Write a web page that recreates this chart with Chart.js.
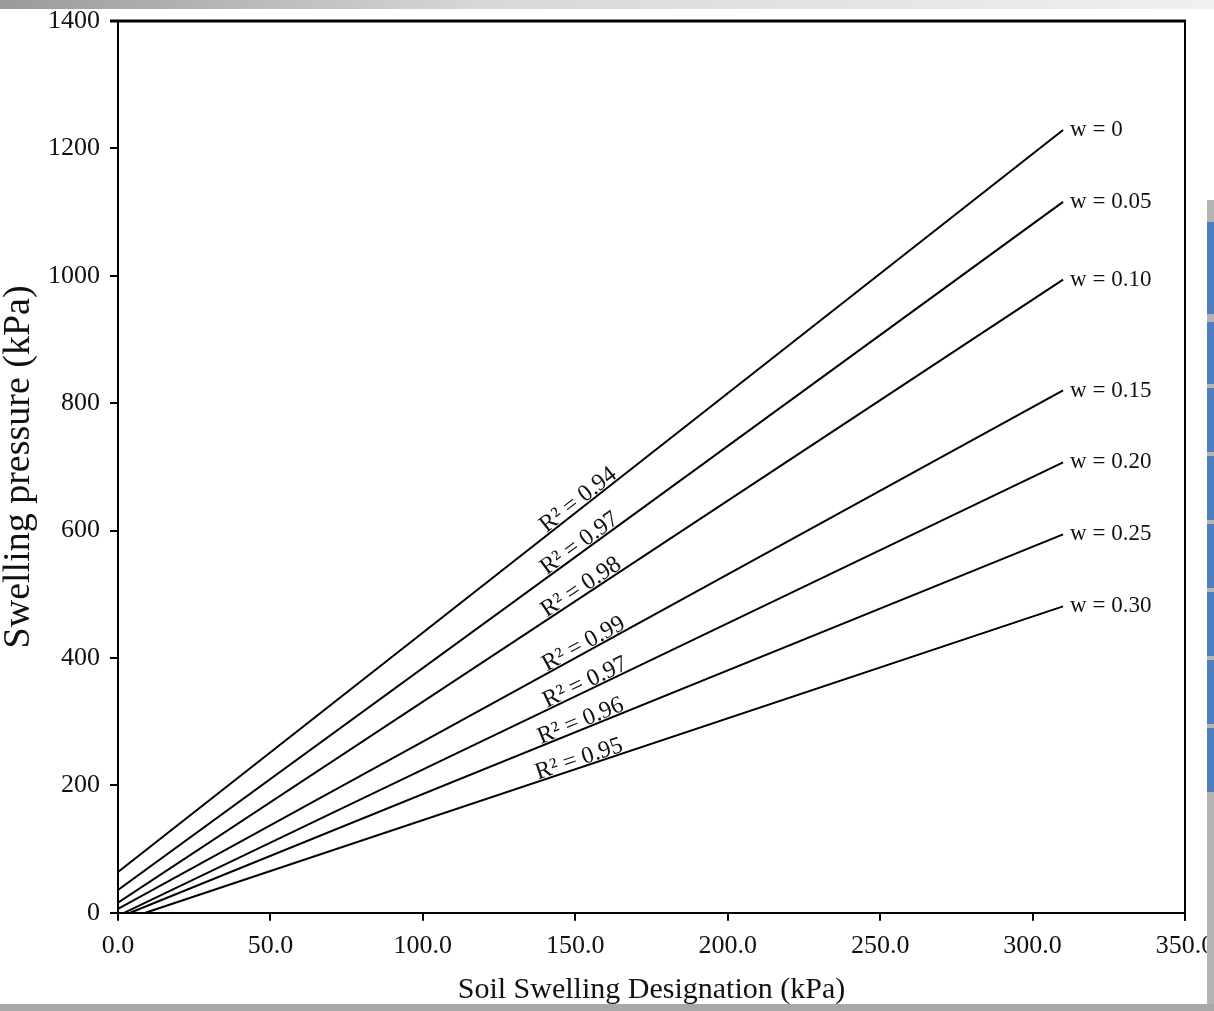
<!DOCTYPE html>
<html>
<head>
<meta charset="utf-8">
<title>Swelling pressure vs Soil Swelling Designation</title>
<script src="https://cdn.jsdelivr.net/npm/chart.js@4.4.1/dist/chart.umd.min.js"></script>
<style>
  body { margin: 0; background: #fff; }
  #wrap { position: relative; width: 1214px; height: 1011px; overflow: hidden; }
  #topBar { position: absolute; left: 0; top: 0; width: 1214px; height: 9px;
    background: linear-gradient(to right, #9a9a9a, #d8d8d8 40%, #f0f0f0); }
  #bottomBar { position: absolute; left: 0; top: 1004px; width: 1214px; height: 7px; background: #a8a8a8; }
  #rightStrip { position: absolute; left: 1207px; top: 200px; width: 7px; height: 811px; background: #b4b4b4; }
  .blueBlock { position: absolute; left: 1207px; width: 7px; background: #4f7fbd; }
  #chartBox { position: absolute; left: 0; top: 0; width: 1214px; height: 1011px; }
</style>
</head>
<body>
<div id="wrap">
  <div id="chartBox"><canvas id="myChart"></canvas></div>
  <div id="topBar"></div>
  <div id="rightStrip"></div>
  <div class="blueBlock" style="top:222px;height:92px"></div>
  <div class="blueBlock" style="top:322px;height:62px"></div>
  <div class="blueBlock" style="top:388px;height:64px"></div>
  <div class="blueBlock" style="top:456px;height:64px"></div>
  <div class="blueBlock" style="top:524px;height:64px"></div>
  <div class="blueBlock" style="top:592px;height:64px"></div>
  <div class="blueBlock" style="top:660px;height:64px"></div>
  <div class="blueBlock" style="top:728px;height:64px"></div>
  <div id="bottomBar"></div>
</div>
<script>
// moisture content curves
const moistureLabels = ['w = 0', 'w = 0.05', 'w = 0.10', 'w = 0.15', 'w = 0.20', 'w = 0.25', 'w = 0.30'];
const r2Labels = ['R\u00b2 = 0.94', 'R\u00b2 = 0.97', 'R\u00b2 = 0.98', 'R\u00b2 = 0.99', 'R\u00b2 = 0.97', 'R\u00b2 = 0.96', 'R\u00b2 = 0.95'];
const startX = [0, 0, 0, 0, 2, 4, 9];
const startY = [64, 36, 16, 6, 0, 0, 0];
const endX = [310, 310, 310, 310, 310, 310, 310];
const endY = [1229, 1116, 994, 820, 707, 594, 481];
const r2LabelX = [141, 141, 141, 141, 141, 139, 138];

const serif = '"Liberation Serif", "DejaVu Serif", serif';

const datasets = moistureLabels.map((name, i) => ({
  label: name,
  data: [{ x: startX[i], y: startY[i] }, { x: endX[i], y: endY[i] }],
  showLine: true,
  borderColor: '#000',
  borderWidth: 2,
  pointRadius: 0,
  fill: false
}));

// draws the R² notes along each line, the w labels and the plot frame
const lineLabels = {
  id: 'lineLabels',
  afterDatasetsDraw(chart) {
    const { ctx, chartArea } = chart;
    const xs = chart.scales.x;
    const ys = chart.scales.y;
    ctx.save();

    ctx.strokeStyle = '#000';
    ctx.lineWidth = 3;
    ctx.beginPath();
    ctx.moveTo(chartArea.left - 8, chartArea.top);
    ctx.lineTo(chartArea.right + 1, chartArea.top);
    ctx.stroke();
    ctx.lineWidth = 2;
    ctx.beginPath();
    ctx.moveTo(chartArea.right, chartArea.top);
    ctx.lineTo(chartArea.right, chartArea.bottom + 8);
    ctx.stroke();

    ctx.fillStyle = '#111';
    moistureLabels.forEach((name, i) => {
      const px = xs.getPixelForValue(endX[i]);
      const py = ys.getPixelForValue(endY[i]);
      ctx.font = '23px ' + serif;
      ctx.textAlign = 'left';
      ctx.textBaseline = 'middle';
      ctx.fillText(name, px + 7, py);

      const x0 = xs.getPixelForValue(startX[i]);
      const y0 = ys.getPixelForValue(startY[i]);
      const angle = Math.atan2(py - y0, px - x0);
      const t = (r2LabelX[i] - startX[i]) / (endX[i] - startX[i]);
      const lx = x0 + (px - x0) * t;
      const ly = y0 + (py - y0) * t;
      ctx.save();
      ctx.translate(lx, ly);
      ctx.rotate(angle);
      ctx.font = '24px ' + serif;
      ctx.textBaseline = 'alphabetic';
      ctx.fillText(r2Labels[i], 0, -2);
      ctx.restore();
    });
    ctx.restore();
  }
};

const ctx1 = document.getElementById('myChart').getContext('2d');
new Chart(ctx1, {
  type: 'scatter',
  data: { datasets: datasets },
  options: {
    responsive: true,
    maintainAspectRatio: false,
    animation: false,
    layout: { padding: { top: 0, right: 0, bottom: 3, left: 0 } },
    plugins: {
      legend: { display: false },
      tooltip: { enabled: false }
    },
    scales: {
      x: {
        type: 'linear',
        min: 0,
        max: 350,
        afterFit: scale => { scale.paddingRight = 29; },
        ticks: {
          stepSize: 50,
          color: '#111',
          padding: 10,
          font: { family: serif, size: 26 },
          callback: v => v.toFixed(1)
        },
        grid: { drawOnChartArea: false, tickLength: 8, color: '#000', lineWidth: 2 },
        border: { display: true, color: '#000', width: 2 },
        title: {
          display: true,
          text: 'Soil Swelling Designation (kPa)',
          color: '#111',
          font: { family: serif, size: 30 },
          padding: { top: 0, bottom: 0 }
        }
      },
      y: {
        type: 'linear',
        min: 0,
        max: 1400,
        afterFit: scale => { scale.paddingTop = 21; },
        ticks: {
          stepSize: 200,
          color: '#111',
          padding: 10,
          font: { family: serif, size: 26 },
          callback: v => String(v)
        },
        grid: { drawOnChartArea: false, tickLength: 8, color: '#000', lineWidth: 2 },
        border: { display: true, color: '#000', width: 2 },
        title: {
          display: true,
          text: 'Swelling pressure (kPa)',
          color: '#111',
          font: { family: serif, size: 38, lineHeight: 1 },
          padding: { top: 0, bottom: 0 }
        }
      }
    }
  },
  plugins: [lineLabels]
});
</script>
</body>
</html>
